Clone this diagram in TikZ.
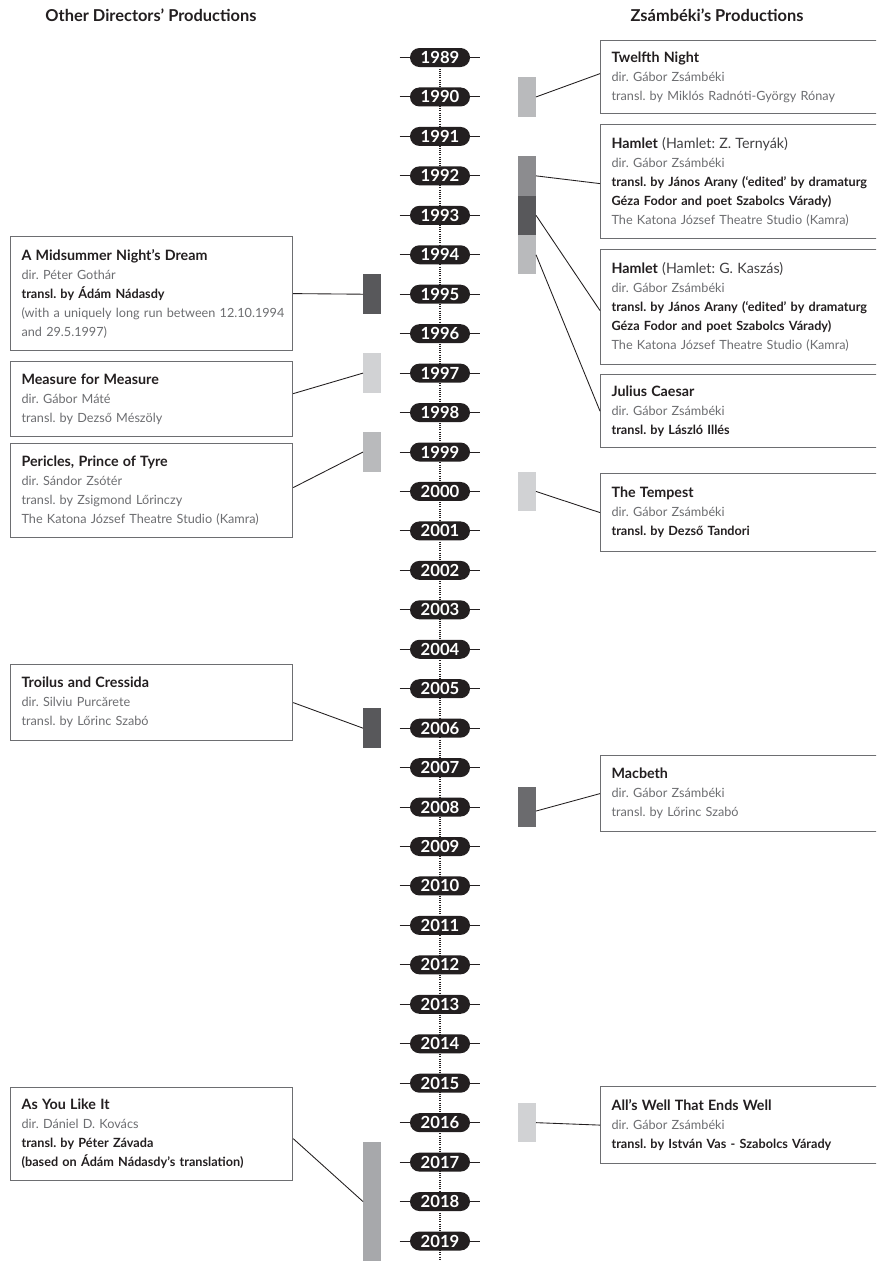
\documentclass[tikz,border=0pt]{standalone}
\usepackage{fontspec}
\setmainfont{Lato}
\usetikzlibrary{calc}
\definecolor{ink}{HTML}{231F20}
\definecolor{txtgray}{HTML}{6D6E71}
\definecolor{subgray}{HTML}{414042}
\definecolor{boxgray}{HTML}{6D6E71}
\definecolor{barA}{HTML}{B9BABC}
\definecolor{barB}{HTML}{8C8C8F}
\definecolor{barC}{HTML}{58585B}
\definecolor{barD}{HTML}{6B6B6E}
\definecolor{barE}{HTML}{D1D2D4}
\definecolor{barF}{HTML}{A7A8AB}
\newcommand\ttl[1]{{\fontsize{10.7}{14.3}\selectfont\bfseries\color{ink}#1}}
\newcommand\sub[1]{{\fontsize{10.7}{14.3}\selectfont\color{subgray}#1}}
\newcommand\bld[1]{{\bfseries\color{ink}#1}}
\begin{document}
\frenchspacing
\begin{tikzpicture}[x=0.75pt,y=-0.75pt,
  boxbase/.style={draw=boxgray, line width=0.9pt, fill=white, align=left,
    anchor=north west, inner xsep=8.25pt, inner ysep=0pt, text=txtgray,
    font=\fontsize{9.5}{14.3}\selectfont},
  rbox/.style={boxbase, text width=201pt},
  lbox/.style={boxbase, text width=195pt},
  pill/.style={fill=ink, text=white, rounded corners=7.1pt, minimum width=45pt,
    minimum height=14.25pt, inner sep=0pt, font=\fontsize{12.5}{12.5}\selectfont\bfseries},
  tick/.style={draw=ink, line width=0.75pt},
  bar/.style={minimum width=13.5pt, minimum height=29.6pt, inner sep=0pt, outer sep=0pt},
  conn/.style={draw=ink, line width=0.65pt},
  head/.style={font=\fontsize{12.3}{14}\selectfont\bfseries, text=ink}]
\clip (0,0) rectangle (876,1261);
\fill[white] (0,0) rectangle (876,1261);

% headers
\node[head] (h1) at (151,15) {Other Directors’ Productions};
\node[head] (h2) at (717,15) {Zsámbéki’s Productions};

% timeline axis
\coordinate (axtop) at (440,57.5);
\coordinate (axbot) at (440,1261);
\draw[draw=ink, line width=0.8pt, dash pattern=on 0.75pt off 0.9pt] (axtop) -- (axbot);
\foreach \yr in {1989,...,2019}{
  \node[pill] (y\yr) at (440,{57.5+39.45*(\yr-1989)}) {\yr};
  \draw[tick] ([xshift=-7.5pt]y\yr.west) -- (y\yr.west);
  \draw[tick] (y\yr.east) -- ([xshift=7.5pt]y\yr.east);
}

% bars right
\node[bar, fill=barA] (b1990) at (527,96.95) {};
\node[bar, fill=barB] (b1992) at (527,175.85) {};
\node[bar, fill=barC] (b1993) at (527,215.3) {};
\node[bar, fill=barA] (b1994) at (527,254.75) {};
\node[bar, fill=barE] (b2000) at (527,491.45) {};
\node[bar, fill=barD] (b2008) at (527,807.05) {};
\node[bar, fill=barE] (b2016) at (527,1122.65) {};
% bars left
\node[bar, fill=barC] (a1995) at (372,294.2) {};
\node[bar, fill=barE] (a1997) at (372,373.1) {};
\node[bar, fill=barA] (a1999) at (372,452.0) {};
\node[bar, fill=barC] (a2006) at (372,728.15) {};
\node[bar, fill=barF, minimum height=88.8pt] (a2017) at (372,1201.55) {};

% right boxes
\node[rbox, minimum height=54.75pt] (tn) at (600,40)
  {\ttl{Twelfth Night}\\dir. Gábor Zsámbéki\\transl. by Miklós Radnóti-György Rónay};
\node[rbox, minimum height=85.5pt] (ham1) at (600,124)
  {\ttl{Hamlet} \sub{(Hamlet: Z. Ternyák)}\\dir. Gábor Zsámbéki\\
   \bld{\mbox{transl. by János Arany (‘edited’ by dramaturg}}\\
   \bld{Géza Fodor and poet Szabolcs Várady)}\\
   The Katona József Theatre Studio (Kamra)};
\node[rbox, minimum height=86.25pt] (ham2) at (600,249)
  {\ttl{Hamlet} \sub{(Hamlet: G. Kaszás)}\\dir. Gábor Zsámbéki\\
   \bld{\mbox{transl. by János Arany (‘edited’ by dramaturg}}\\
   \bld{Géza Fodor and poet Szabolcs Várady)}\\
   The Katona József Theatre Studio (Kamra)};
\node[rbox, minimum height=54.75pt] (jc) at (600,374)
  {\ttl{Julius Caesar}\\dir. Gábor Zsámbéki\\\bld{transl. by László Illés}};
\node[rbox, minimum height=58.5pt] (tem) at (600,473)
  {\ttl{The Tempest}\\dir. Gábor Zsámbéki\\\bld{transl. by Dezső Tandori}};
\node[rbox, minimum height=57pt] (mac) at (600,755)
  {\ttl{Macbeth}\\dir. Gábor Zsámbéki\\transl. by Lőrinc Szabó};
\node[rbox, minimum height=57.75pt] (aw) at (600,1086)
  {\ttl{All’s Well That Ends Well}\\dir. Gábor Zsámbéki\\\bld{transl. by István Vas - Szabolcs Várady}};

% left boxes
\node[lbox, minimum height=85.5pt] (msd) at (10,236)
  {\ttl{A Midsummer Night’s Dream}\\dir. Péter Gothár\\\bld{transl. by Ádám Nádasdy}\\
   \mbox{(with a uniquely long run between 12.10.1994}\\and 29.5.1997)};
\node[lbox, minimum height=56.25pt] (mfm) at (10,361)
  {\ttl{Measure for Measure}\\dir. Gábor Máté\\transl. by Dezső Mészöly};
\node[lbox, minimum height=70.5pt] (per) at (10,443)
  {\ttl{Pericles, Prince of Tyre}\\dir. Sándor Zsótér\\transl. by Zsigmond Lőrinczy\\
   The Katona József Theatre Studio (Kamra)};
\node[lbox, minimum height=57pt] (tc) at (10,664)
  {\ttl{Troilus and Cressida}\\dir. Silviu Purcărete\\transl. by Lőrinc Szabó};
\node[lbox, minimum height=69.75pt] (ayl) at (10,1087)
  {\ttl{As You Like It}\\dir. Dániel D. Kovács\\\bld{transl. by Péter Závada}\\
   \bld{(based on Ádám Nádasdy’s translation)}};

% connectors right
\draw[conn] (b1990.east) -- ([yshift=2.6pt]tn.west);
\draw[conn] (b1992.east) -- ([yshift=-1.5pt]ham1.west);
\draw[conn] (b1993.east) -- ([yshift=-2.6pt]ham2.west);
\draw[conn] (b1994.east) -- (jc.west);
\draw[conn] (b2000.east) -- (tem.west);
\draw[conn] ([yshift=-3pt]b2008.east) -- (mac.west);
\draw[conn] (b2016.east) -- (aw.west);
% connectors left
\draw[conn] (msd.east) -- (a1995.west);
\draw[conn] ([yshift=4.1pt]mfm.east) -- (a1997.west);
\draw[conn] ([yshift=2.25pt]per.east) -- (a1999.west);
\draw[conn] (tc.east) -- (a2006.west);
\draw[conn] ([yshift=-3.4pt]ayl.east) -- (a2017.west);
\end{tikzpicture}
\end{document}
